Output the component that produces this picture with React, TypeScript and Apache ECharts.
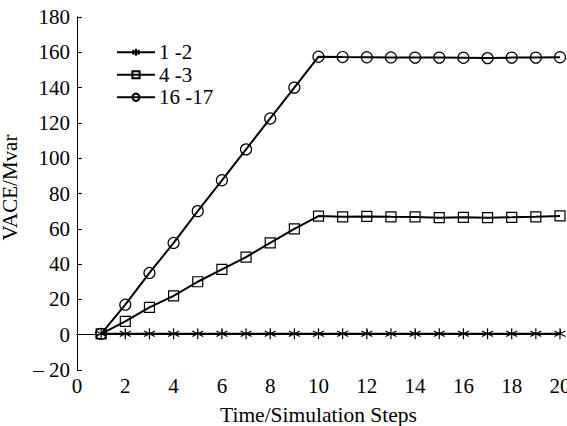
import React, { useEffect, useRef } from "react";
import * as echarts from "echarts";

const steps = [1, 2, 3, 4, 5, 6, 7, 8, 9, 10, 11, 12, 13, 14, 15, 16, 17, 18, 19, 20];
const s12 = [0.5, 0.5, 0.5, 0.5, 0.5, 0.5, 0.5, 0.5, 0.5, 0.5, 0.5, 0.5, 0.5, 0.5, 0.5, 0.5, 0.5, 0.5, 0.5, 0.5];
const s43 = [0.5, 7.5, 15.5, 22, 30, 37, 44, 52, 60, 67.2, 66.8, 67, 66.8, 66.7, 66.3, 66.5, 66.3, 66.5, 66.8, 67.3];
const s1617 = [0.5, 17, 35, 52, 70, 87.5, 105, 122.5, 140, 157.5, 157.3, 157.2, 157.1, 157, 157, 156.9, 156.7, 157, 157, 157.2];
const xTicks = [0, 2, 4, 6, 8, 10, 12, 14, 16, 18, 20];
const yTicks = [-20, 0, 20, 40, 60, 80, 100, 120, 140, 160, 180];

const asterisk = "path://M0,-5L0,5M-4.33,-2.5L4.33,2.5M-4.33,2.5L4.33,-2.5";
const font = "Liberation Serif, Times New Roman, serif";

export default function App() {
  const ref = useRef<HTMLDivElement>(null);
  useEffect(() => {
    const chart = echarts.init(ref.current!, null, { renderer: "svg" });
    const mk = (name: string, vals: number[], symbol: string, size: number) => ({
      name,
      type: "line",
      data: steps.map((s, i) => [s, vals[i]]),
      symbol,
      symbolSize: size,
      showAllSymbol: true,
      lineStyle: { color: "#000", width: 2 },
      itemStyle: { color: "rgba(0,0,0,0)", borderColor: "#000", borderWidth: 1.2 },
    });
    chart.setOption({
      animation: false,
      backgroundColor: "#fff",
      grid: { left: 77, right: 7, top: 17, bottom: 56, outerBoundsMode: "none", containLabel: false },
      legend: {
        orient: "vertical",
        left: 116,
        top: 41,
        padding: 0,
        itemWidth: 38,
        itemHeight: 9,
        itemGap: 0,
        textStyle: { fontFamily: font, fontSize: 21, lineHeight: 22.5, color: "#000", padding: [0, 0, 0, -1] },
        data: ["1 -2", "4 -3", "16 -17"],
      },
      xAxis: [
        {
          type: "value",
          min: 0,
          max: 20,
          interval: 2,
          name: "Time/Simulation Steps",
          nameLocation: "middle",
          nameGap: 45,
          nameTextStyle: { fontFamily: font, fontSize: 21.5, color: "#000", verticalAlign: "middle" },
          axisLine: { lineStyle: { color: "#000", width: 1 } },
          axisTick: { inside: true, length: 5, lineStyle: { color: "#000" } },
          axisLabel: { fontFamily: font, fontSize: 21, color: "#000", margin: 5 },
          splitLine: { show: false },
        },
        {
          type: "value",
          position: "top",
          min: 0,
          max: 20,
          axisLine: { show: true, lineStyle: { color: "#000", width: 1 } },
          axisTick: { show: false },
          axisLabel: { show: false },
          splitLine: { show: false },
        },
      ],
      yAxis: [
        {
          type: "value",
          min: -20,
          max: 180,
          interval: 20,
          name: "VACE/Mvar",
          nameLocation: "middle",
          nameGap: 67,
          nameTextStyle: {
            fontFamily: font,
            fontSize: 21,
            color: "#000",
            verticalAlign: "middle",
            padding: [0, 0, 0, 12],
          },
          axisLine: { show: true, lineStyle: { color: "#000", width: 1 } },
          axisTick: { show: true, inside: true, length: 5, lineStyle: { color: "#000" } },
          axisLabel: {
            fontFamily: font,
            fontSize: 21,
            color: "#000",
            margin: 7,
            formatter: (v: number) => (v < 0 ? "– " + Math.abs(v) : String(v)),
          },
          splitLine: { show: false },
        },
        {
          type: "value",
          position: "right",
          min: -20,
          max: 180,
          axisLine: { show: true, lineStyle: { color: "#000", width: 1 } },
          axisTick: { show: false },
          axisLabel: { show: false },
          splitLine: { show: false },
        },
      ],
      series: [
        mk("1 -2", s12, asterisk, 11),
        mk("4 -3", s43, "rect", 10),
        mk("16 -17", s1617, "circle", 11),
      ],
    });
    return () => chart.dispose();
  }, []);
  return (
    <div
      ref={ref}
      style={{ position: "fixed", left: 0, top: 0, width: 567, height: 426 }}
    />
  );
}
